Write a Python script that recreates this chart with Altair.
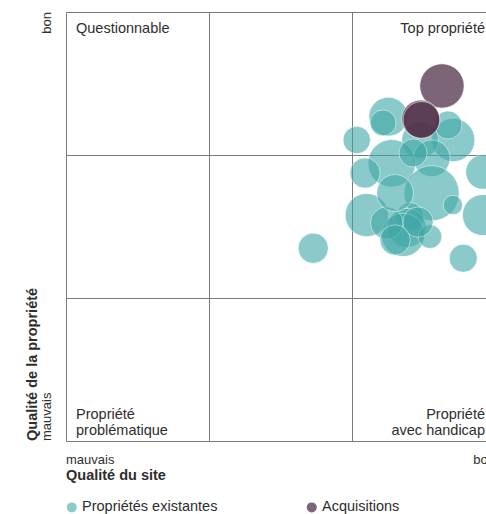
import altair as alt
import pandas as pd

# ---- data ----
types = ["Propriétés existantes"] * 25 + ["Acquisitions"] * 3
site = [2.254, 2.217, 2.033, 2.708, 2.671, 2.476, 2.557, 2.278, 2.427, 2.091,
        2.916, 2.557, 2.706, 2.103, 2.916, 2.406, 2.383, 2.357, 2.545, 2.243,
        2.778, 1.729, 2.301, 2.462, 2.301,
        2.629, 2.480, 2.486]
propriete = [2.268, 2.224, 2.105, 2.105, 2.210, 2.105, 1.977, 1.942, 2.014, 1.874,
             1.881, 1.732, 1.650, 1.580, 1.580, 1.569, 1.490, 1.441, 1.429, 1.524,
             1.278, 1.348, 1.734, 1.531, 1.406,
             2.483, 2.252, 2.245]
valeur = [324, 144, 161, 400, 169, 289, 289, 484, 169, 196,
          256, 650, 81, 400, 361, 169, 324, 400, 121, 225,
          169, 196, 289, 196, 196,
          420, 306, 289]

categories = ["Propriétés existantes", "Acquisitions"]
colors = ["#3fa8a7", "#52324b"]

x_label_low, x_label_high = "mauvais", "bon"
y_label_low, y_label_high = "mauvais", "bon"
x_title = "Qualité du site"
y_title = "Qualité de la propriété"
q_top_left = "Questionnable"
q_top_right = "Top propriété"
q_bottom_left = "Propriété\nproblématique"
q_bottom_right = "Propriété\navec handicap"

df = pd.DataFrame({"type": types, "site": site, "propriete": propriete, "valeur": valeur})

FONT = "Liberation Sans"
TXT = "#2e2e2e"
FS = 14.5

grid_axis = alt.Axis(values=[0, 1, 2, 3], grid=True, labels=False, ticks=False,
                     domain=False, title=None, gridColor="#7a7a7a", gridWidth=1,
                     gridOpacity=1)

xscale = alt.Scale(domain=[0, 420 / 143], nice=False, zero=False)
yscale = alt.Scale(domain=[0, 3], nice=False, zero=False)

points = alt.Chart(df).mark_circle(stroke="white", strokeWidth=1, strokeOpacity=0.75).encode(
    x=alt.X("site:Q", scale=xscale, axis=grid_axis),
    y=alt.Y("propriete:Q", scale=yscale, axis=grid_axis),
    size=alt.Size("valeur:Q", scale=alt.Scale(domain=[0, 1000], range=[0, 4700]), legend=None),
    color=alt.Color("type:N", scale=alt.Scale(domain=categories, range=colors),
                    legend=alt.Legend(title=None, orient="none", legendX=-1.5, legendY=488,
                                      direction="horizontal", columnPadding=87,
                                      symbolType="circle", symbolSize=100,
                                      symbolOpacity=0.8, symbolStrokeWidth=0,
                                      labelFont=FONT, labelFontSize=FS, labelColor=TXT,
                                      labelOffset=3, padding=0, labelLimit=300)),
    opacity=alt.Opacity("type:N", scale=alt.Scale(domain=categories, range=[0.6, 0.75]),
                        legend=None),
)


def label(text, x, y, **kw):
    base = dict(font=FONT, fontSize=FS, color=TXT)
    base.update(kw)
    return alt.Chart(pd.DataFrame({"t": [text]})).mark_text(**base).encode(
        x=alt.datum(x), y=alt.datum(y), text="t:N")


layers = [
    points,
    label(q_top_left, 0, 3, align="left", baseline="alphabetic", dx=10, dy=20.5),
    label(q_top_right, 3, 3, align="right", baseline="alphabetic", dx=-10, dy=20.5),
    label(q_bottom_left, 0, 0, align="left", baseline="alphabetic", dx=10, dy=-22.5,
          lineBreak="\n", lineHeight=16.5),
    label(q_bottom_right, 3, 0, align="right", baseline="alphabetic", dx=-10, dy=-22.5,
          lineBreak="\n", lineHeight=16.5),
    # x axis labels / title
    label(x_label_low, 0, 0, align="left", baseline="alphabetic", dy=23, fontSize=13),
    label(x_label_high, 3, 0, align="right", baseline="alphabetic", dy=23, fontSize=13),
    label(x_title, 0, 0, align="left", baseline="alphabetic", dy=39, fontWeight="bold"),
    # y axis labels / title (rotated)
    label(y_label_high, 0, 3, align="right", baseline="middle", angle=270, dy=-19, fontSize=13),
    label(y_label_low, 0, 0, align="left", baseline="middle", angle=270, dy=-19, fontSize=13),
    label(y_title, 0, 0, align="left", baseline="middle", angle=270, dy=-33, fontWeight="bold"),
]

chart = alt.layer(*layers).properties(
    width=420,
    height=429,
    autosize=alt.AutoSizeParams(type="none"),
    padding={"left": 66, "top": 12, "right": 0, "bottom": 73},
    background="white",
).configure_view(strokeWidth=0)

chart.save("out.html", embed_options={"renderer": "svg", "actions": False})
